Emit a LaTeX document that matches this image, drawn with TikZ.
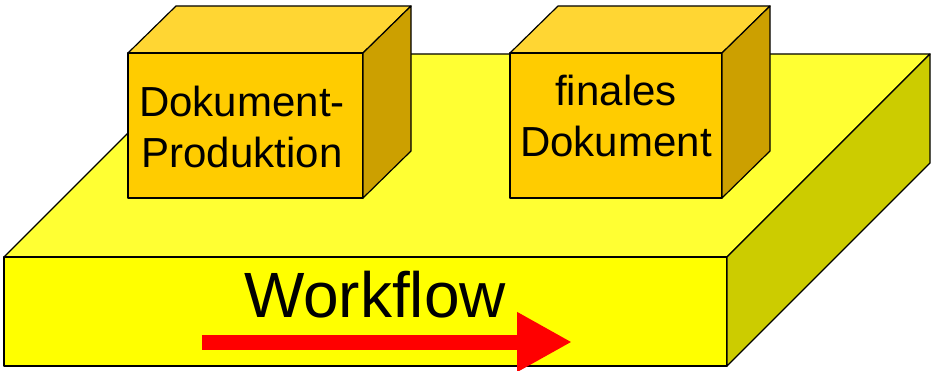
\documentclass[tikz,border=0pt]{standalone}
\usepackage{fontspec}
\setmainfont{Liberation Sans}
\usetikzlibrary{arrows.meta,positioning}
\definecolor{slabtop}{HTML}{FFFF33}
\definecolor{slabfront}{HTML}{FFFF00}
\definecolor{slabside}{HTML}{CCCC00}
\definecolor{cubefront}{HTML}{FFCC00}
\definecolor{cubetop}{HTML}{FFD633}
\definecolor{cubeside}{HTML}{CCA000}

\begin{document}
\begin{tikzpicture}[x=1pt,y=-1pt,line join=round,
    face/.style={draw=black,line width=1.2pt},
    cubetext/.style={inner sep=0pt,align=center,font=\fontsize{42}{51}\selectfont}]
   \useasboundingbox (0,0) rectangle (931,371);
   % platform
   \filldraw[face,fill=slabtop] (4,257) -- (207,54) -- (930,54) -- (727,257) -- cycle;
   \filldraw[face,fill=slabfront] (4,257) rectangle (727,366);
   \filldraw[face,fill=slabside] (727,257) -- (930,54) -- (930,163) -- (727,366) -- cycle;
   % the two cubes
   \foreach \x/\w in {128/235, 510/212} {
     \filldraw[face,fill=cubetop] (\x,53) -- (\x+48,6) -- (\x+\w+48,6) -- (\x+\w,53) -- cycle;
     \filldraw[face,fill=cubefront] (\x,53) rectangle (\x+\w,198);
     \filldraw[face,fill=cubeside] (\x+\w,53) -- (\x+\w+48,6) -- (\x+\w+48,151) -- (\x+\w,198) -- cycle;
   }
   \node[cubetext] (prod)  at (242,127) {Dokument-\\Produktion};
   \node[cubetext] (final) at (616,116) {finales\\Dokument};
   \node[anchor=base,inner sep=0pt,font=\fontsize{64}{64}\selectfont] (flow) at (375,317) {Workflow};
   \coordinate (flowstart) at (202,342);
   \coordinate (flowend) at (572,342);
   \draw[red,line width=15pt,-{Triangle[length=55pt,width=56pt]}] (flowstart) -- (flowend);
\end{tikzpicture}
\end{document}
